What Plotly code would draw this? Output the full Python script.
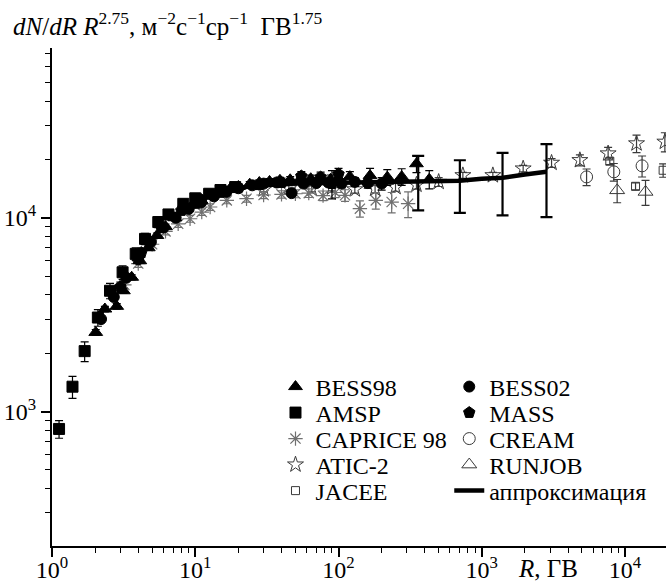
import plotly.graph_objects as go

# ---------------- data (R in GV, F = dN/dR * R^2.75) ----------------
bess98_R = [2.02, 2.34, 2.83, 3.15, 3.6, 4.1, 4.7, 5.4, 6.2, 7.2, 8.3, 9.6, 11, 13, 15, 17.5, 20, 24, 28, 33,
            39, 46, 54, 64, 75, 88, 100, 120, 166, 219, 276, 350, 430]
bess98_F = [2560, 3380, 3490, 4200, 4930, 6000, 7000, 8100, 9000, 10000, 10900, 11600, 12300, 13000, 13600,
            14100, 14500, 14900, 15200, 15400, 15600, 15700, 15800, 15900, 15700, 15800, 15900, 16300, 16500,
            16200, 16300, 19000, 15800]
bess98_E = [90, 110, 110, 130, 150, 180, 210, 240, 270, 300, 330, 350, 370, 400, 420, 440, 460, 480, 500, 520,
            560, 600, 640, 700, 760, 820, 900, 1000, 1500, 1500, 1600, 1900, 1700]

amsp_R = [1.12, 1.39, 1.69, 2.09, 2.54, 3.11, 3.84, 4.46, 5.52, 6.5, 8.25, 10, 12.5, 15, 19]
amsp_F = [813, 1343, 2050, 3055, 4200, 5230, 6510, 7780, 9500, 10400, 11800, 12600, 13300, 13900, 14400]
amsp_E = [85, 175, 240, 300, 380, 420, 480, 520, 600, 620, 650, 680, 700, 720, 760]

bess02_R = [2.2, 2.7, 3.3, 4.0, 4.9, 6.0, 7.3, 9.0, 11, 13.5, 16.5, 20, 25, 30, 37, 47, 57, 70, 85, 105, 130, 160, 200]
bess02_F = [3000, 3900, 4900, 6100, 7500, 8900, 10000, 11100, 12000, 12900, 13600, 14200, 14700, 15000, 15200,
            13400, 15000, 15100, 15200, 15000, 15300, 15100, 15000]
bess02_E = [60, 80, 100, 120, 150, 180, 200, 220, 240, 260, 280, 300, 320, 340, 380, 420, 460, 520, 600, 700,
            800, 900, 1100]

mass_R = [3.0, 4.2, 5.8, 8, 11, 15, 20, 28, 40, 55, 75, 90, 100]
mass_F = [4400, 6600, 8900, 10900, 12400, 13500, 14300, 14800, 15200, 16400, 16200, 15000, 16800]
mass_E = [250, 350, 450, 550, 600, 650, 700, 750, 800, 900, 1000, 2500, 1200]

caprice_R = [3.2, 4.0, 5.0, 6.2, 7.6, 9.2, 11.1, 12.7, 16.6, 22.8, 30, 40, 50, 62, 78, 95, 111, 141, 182, 235, 306]
caprice_F = [4500, 5800, 7300, 8500, 9300, 9880, 10700, 11360, 12290, 12540, 13100, 13200, 13300, 13400, 13000,
             13500, 13050, 11140, 12290, 12050, 11815]
caprice_E = [200, 250, 300, 350, 380, 400, 420, 440, 480, 500, 540, 580, 620, 680, 740, 800, 900, 1070, 1200,
             1450, 1800]

atic_R = [30, 45, 65, 90, 130, 180, 250, 350, 500, 738, 1195, 1945, 3070, 4840, 7620, 12030, 18970]
atic_F = [14000, 14200, 14100, 14300, 14000, 14100, 14400, 14800, 15300, 16560, 16560, 17940, 19200, 19815,
          21460, 24180, 24660]
atic_E = [400, 450, 500, 550, 600, 650, 700, 750, 800, 600, 600, 700, 1000, 1300, 1600, 2500, 2800]

cream_R = [5390, 8350, 13150]
cream_F = [16250, 17250, 18530]
cream_E = [1600, 1800, 2300]

runjob_R = [8810, 13900]
runjob_F = [13850, 13590]
runjob_E = [1900, 2000]

jacee_R = [7830, 11840, 18450]
jacee_F = [19580, 14530, 17580]
jacee_E = [800, 600, 1400]

approx_R = [20, 30, 50, 100, 200, 400, 700, 1000, 1400, 2000, 2830]
approx_F = [14300, 14700, 15000, 15100, 15150, 15250, 15500, 15900, 16100, 16700, 17260]

bigerr_R = [360, 703, 1396, 2830]
bigerr_F = [15300, 15500, 16060, 17260]
bigerr_Ep = [5580, 4300, 5570, 6720]
bigerr_Em = [4390, 4900, 5780, 7180]

x_tickvals = [1, 10, 100, 1000, 10000]
x_ticktext = ["10<sup>0</sup>", "10<sup>1</sup>", "10<sup>2</sup>", "10<sup>3</sup>", "10<sup>4</sup>"]
y_tickvals = [1000, 10000]
y_ticktext = ["10<sup>3</sup>", "10<sup>4</sup>"]

FONT = "Liberation Serif"
GRAY = "#707070"
DARK = "#3a3a3a"

# one legend box per entry: (legend id, paper x, paper y)
legend_slots = {
    "BESS98": ("legend", 0.364, 0.3193),
    "AMSP": ("legend2", 0.364, 0.2671),
    "CAPRICE 98": ("legend3", 0.364, 0.2149),
    "ATIC-2": ("legend4", 0.364, 0.1627),
    "JACEE": ("legend5", 0.364, 0.1104),
    "BESS02": ("legend6", 0.647, 0.3193),
    "MASS": ("legend7", 0.647, 0.2671),
    "CREAM": ("legend8", 0.647, 0.2149),
    "RUNJOB": ("legend9", 0.647, 0.1627),
    "аппроксимация": ("legend10", 0.647, 0.1104),
}

fig = go.Figure()


def add(name, R, F, E, symbol, size, color, line_color, ecolor, lw=1.0):
    fig.add_trace(go.Scatter(
        x=R, y=F, mode="markers", name=name, legend=legend_slots[name][0],
        marker=dict(symbol=symbol, size=size, color=color, line=dict(color=line_color, width=lw)),
        error_y=dict(type="data", array=E, color=ecolor, thickness=1.2, width=4),
    ))


# background (open / gray) series first
add("ATIC-2", atic_R, atic_F, atic_E, "star-open", 12, DARK, DARK, DARK, 1.0)
add("CAPRICE 98", caprice_R, caprice_F, caprice_E, "asterisk-open", 12, GRAY, GRAY, GRAY, 1.2)
add("CREAM", cream_R, cream_F, cream_E, "circle-open", 12, DARK, DARK, DARK, 1.0)
add("RUNJOB", runjob_R, runjob_F, runjob_E, "triangle-up-open", 13, DARK, DARK, DARK, 1.0)
add("JACEE", jacee_R, jacee_F, jacee_E, "square-open", 8, DARK, DARK, DARK, 1.0)
# filled series
add("BESS02", bess02_R, bess02_F, bess02_E, "circle", 11, "black", "black", "black")
add("MASS", mass_R, mass_F, mass_E, "pentagon", 12, "black", "black", "black")
add("AMSP", amsp_R, amsp_F, amsp_E, "square", 11, "black", "black", "black")
add("BESS98", bess98_R, bess98_F, bess98_E, "triangle-up", 12, "black", "black", "black")

fig.add_trace(go.Scatter(
    x=approx_R, y=approx_F, mode="lines", name="аппроксимация", legend=legend_slots["аппроксимация"][0],
    line=dict(color="black", width=4.5),
))
fig.add_trace(go.Scatter(
    x=bigerr_R, y=bigerr_F, mode="markers", showlegend=False,
    marker=dict(size=1, color="black"),
    error_y=dict(type="data", symmetric=False, array=bigerr_Ep, arrayminus=bigerr_Em,
                 color="black", thickness=2.2, width=6),
))

axis_common = dict(
    type="log", showline=True, linecolor="black", linewidth=2, showgrid=False, zeroline=False,
    ticks="outside", ticklen=9, tickwidth=1.5, tickcolor="black", automargin=False,
    tickfont=dict(family=FONT, size=24, color="black"),
    minor=dict(ticks="outside", ticklen=5, tickwidth=1.2, tickcolor="black", dtick="D1", showgrid=False),
)

layout_legends = {}
for nm, (lid, lx, ly) in legend_slots.items():
    layout_legends[lid] = dict(x=lx, y=ly, xanchor="left", yanchor="middle", bgcolor="rgba(0,0,0,0)",
                               font=dict(family=FONT, size=24, color="black"))

fig.update_layout(
    width=666, height=586,
    margin=dict(l=52, r=0, t=48, b=40),
    paper_bgcolor="white", plot_bgcolor="white",
    font=dict(family=FONT, color="black"),
    xaxis=dict(range=[0, 4.286], tickmode="array", tickvals=x_tickvals, ticktext=x_ticktext,
               ticklabelstandoff=-8, **axis_common),
    yaxis=dict(range=[2.306, 4.876], tickmode="array", tickvals=y_tickvals, ticktext=y_ticktext,
               **axis_common),
    showlegend=True,
    annotations=[
        dict(xref="paper", yref="paper", x=-0.066, y=1.048, xanchor="left", yanchor="middle", showarrow=False,
             text="<i>dN</i>/<i>dR R</i><sup>2.75</sup>, м<sup>−2</sup>с<sup>−1</sup>ср<sup>−1</sup>  ГВ<sup>1.75</sup>",
             font=dict(family=FONT, size=25, color="black")),
        dict(xref="paper", yref="paper", x=0.808, y=-0.046, xanchor="center", yanchor="middle", showarrow=False,
             text="<i>R</i>, ГВ", font=dict(family=FONT, size=25, color="black")),
    ],
    **layout_legends,
)

fig.write_html("out.html", config={"displayModeBar": False},
               post_script="document.body.style.margin='0';")
